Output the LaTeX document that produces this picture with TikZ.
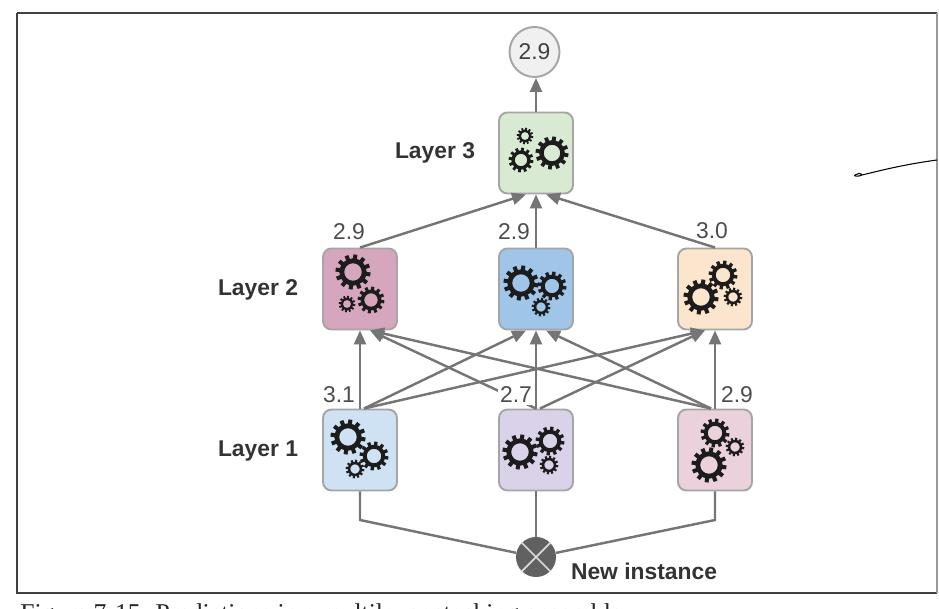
\documentclass[tikz,border=0pt]{standalone}
\usepackage{fontspec}
\setmainfont{Liberation Sans}
\newfontfamily\captionfont{Liberation Serif}
\usetikzlibrary{arrows.meta}
\definecolor{linegray}{HTML}{757575}
\definecolor{boxgray}{HTML}{A5A5A5}
\definecolor{gearblack}{HTML}{1C1C1C}
\tikzset{
    pics/gear/.style={code={
        \draw[gearblack, line width=#1*0.16pt] (0,0) circle (#1*0.66);
        \foreach \a in {0,30,...,330}
            \draw[gearblack, line width=#1*0.135pt] (\a+8:#1*0.7) -- (\a+8:#1*1.03);
    }}
}
\begin{document}
\begin{tikzpicture}[
    x=0.02cm, y=-0.02cm,
    layerbox/.style={draw=boxgray, line width=1.1pt, rounded corners=0.17cm, minimum width=1.48cm, minimum height=1.62cm},
    layername/.style={font=\fontsize{13}{15}\selectfont\bfseries, text=black!80},
    value/.style={font=\fontsize{13}{15}\selectfont, text=black!70, inner sep=1pt},
    link/.style={draw=linegray, line width=1.4pt},
    arrow/.style={link, -{Triangle[length=0.28cm, width=0.24cm]}}
]
\useasboundingbox (0,0) rectangle (939,608);

% Frame
\draw[black!75, line width=1.1pt] (17,13) -- (937,13);
\draw[black!75, line width=1.1pt] (17,13) -- (17,593) -- (937,593);
\draw[black!40, line width=1.1pt] (937,13) -- (937,593);

% Boxes
\node[layerbox, fill={rgb,255:red,217;green,234;blue,211}] (top) at (536,153) {};
\node[layerbox, fill={rgb,255:red,213;green,166;blue,189}] (midA) at (360,289) {};
\node[layerbox, fill={rgb,255:red,159;green,197;blue,232}] (midB) at (536,289) {};
\node[layerbox, fill={rgb,255:red,252;green,229;blue,205}] (midC) at (715,289) {};
\node[layerbox, fill={rgb,255:red,207;green,226;blue,243}] (lowA) at (360,450) {};
\node[layerbox, fill={rgb,255:red,217;green,210;blue,233}] (lowB) at (536,450) {};
\node[layerbox, fill={rgb,255:red,234;green,209;blue,220}] (lowC) at (715,450) {};

% Output and input
\node[circle, draw=boxgray, line width=1.1pt, fill=black!6, minimum size=1cm, inner sep=0pt,
      font=\fontsize{13}{15}\selectfont, text=black!75] (output) at (534.5,52) {2.9};
\node[circle, fill=black!62, minimum size=0.8cm, inner sep=0pt] (inst) at (536,557) {};
\draw[white!85!black, line width=1pt] (inst.north west) -- (inst.south east);
\draw[white!85!black, line width=1pt] (inst.north east) -- (inst.south west);
\coordinate (bendA) at (360,520);
\coordinate (bendC) at (715,520);

% Gears
\foreach \x/\y/\r in {525/136/8,521/160/12,552/153/16,
    353/272/17,371/300/13,347/304/8,
    521/283/17,552/286/14,541/307/9,
    701/297/17,723/275/14,733/297/9,
    348/437/17,374/456/14,355/469/9,
    520/452/17,550/441/14,549/465/9,
    709/465/17,715/433/14,735/447/9}
{
    \pic at (\x,\y) {gear=\r};
}

% Layer 3 inputs and output
\draw[arrow] (top.north) -- (top.north |- output.south);
\draw[arrow] (midA.north) -- ([xshift=-0.2cm]top.south);
\draw[arrow] (midB.north) -- (top.south);
\draw[arrow] (midC.north) -- ([xshift=0.2cm]top.south);

% Layer 1 to layer 2
\foreach \a in {A,B,C}
{
    \draw[arrow] (low\a.north) -- (mid\a.south);
}
\foreach \a/\b/\s/\t in {A/B/1/-2,A/C/1/-2,B/A/0/2,B/C/1/-2,C/A/-1/2,C/B/-1/2}
{
    \draw[arrow] ([xshift=\s*0.08cm]low\a.north) -- ([xshift=\t*0.1cm]mid\b.south);
}

% New instance
\draw[link] (inst) -- (bendA) -- (lowA.south);
\draw[link] (inst.north) -- (lowB.south);
\draw[link] (inst) -- (bendC) -- (lowC.south);

% Labels
\node[layername] (nameTop) at (435,153) {Layer 3};
\node[layername] (nameMid) at (258,290) {Layer 2};
\node[layername] (nameLow) at (258,451) {Layer 1};
\node[layername] (nameInst) at (644,571) {New instance};
\node[value] (valA) at (349,232) {2.9};
\node[value] (valB) at (514,232) {2.9};
\node[value] (valC) at (712,231) {3.0};
\node[value] (valD) at (339,395) {3.1};
\node[value, fill=white] (valE) at (516,395) {2.7};
\node[value] (valF) at (737,395) {2.9};

% Pen stroke
\draw[black, line width=0.6pt] (937,160) .. controls (900,165) and (875,172) .. (862,175)
    .. controls (858,177) and (853,176) .. (855,175) .. controls (857,173) and (861,173) .. (862,175);

% Caption, cut off by the page edge
\node[anchor=north west, inner sep=0pt, font=\captionfont\fontsize{14.6}{16}\selectfont, text=black!85] (caption) at (20,603)
    {Figure 7-15. Predictions in a multilayer stacking ensemble};
\end{tikzpicture}
\end{document}
